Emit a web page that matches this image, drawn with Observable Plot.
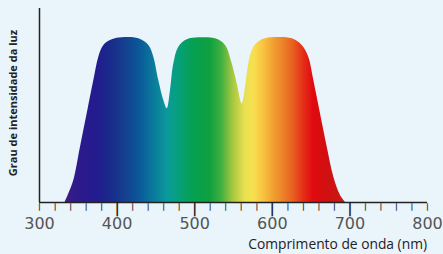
<!DOCTYPE html>
<html>
<head>
<meta charset="utf-8">
<script src="https://cdn.jsdelivr.net/npm/d3@7"></script>
<script src="https://cdn.jsdelivr.net/npm/@observablehq/plot@0.6"></script>
<style>
  html, body { margin: 0; padding: 0; background: #eaf4fb; }
  #chart { width: 443px; height: 254px; position: relative; }
</style>
</head>
<body>
<div id="chart"></div>
<script>
// Spectrum outline: wavelength (nm) and relative intensity
const wavelength = [333,337.8,344.2,352.8,361.5,370.0,376.4,382.9,393.7,406.6,428.0,440.9,447.3,453.7,460.2,464.6,468.8,473.1,479.5,490.3,505.3,526.8,539.7,548.3,554.8,561.2,565.5,569.7,576.2,587.0,604.1,625.7,638.5,647.0,653.5,662.1,670.8,679.3,687.9,694.3];
const intensity  = [0,5.3,13.3,33.5,53.9,73.9,88.1,95.2,98.6,99.8,99.2,95.2,88.1,73.9,61.8,56.8,67.9,84.1,94.1,98.6,99.8,99.2,95.2,84.1,71.9,59.8,69.9,84.1,94.1,98.6,100,99.2,95.2,88.1,73.9,53.8,33.5,15.3,4.2,0];

// Colour gradient stops along the wavelength axis
const stopNm = [333,353,375,391,410,430,450,465,480,499,520,535,550,565,576,590,602,615,627,640,653,671,694];
const stopColor = ["#3c1c86","#2c1a8c","#221c8e","#1a2a8a","#153f8f","#0a5a9a","#0a7f9c","#0a9a9a","#06a07a","#06a050","#10a040","#40b040","#a8c840","#e8e050","#f8e050","#f8c040","#f0a030","#ec8028","#e86020","#e43018","#e00a10","#d01010","#c81818"];

const majorTicks = [400, 500, 600, 700];
const minorTicks = d3.range(300, 801, 20).filter(d => !majorTicks.includes(d));
const tickLabels = [300, 400, 500, 600, 700, 800];

const data = wavelength.map((w, i) => ({w, v: intensity[i]}));

const yMax = 117.6;
const perPx = yMax / 194;      // y units per pixel
const yMin = -14 * perPx;      // frame extends 14px below the baseline for ticks

const plot = Plot.plot({
  width: 443,
  height: 254,
  marginLeft: 39,
  marginRight: 16,
  marginTop: 8,
  marginBottom: 38,
  style: {background: "transparent", overflow: "visible"},
  x: {domain: [300, 800], axis: null},
  y: {domain: [yMin, yMax], axis: null},
  marks: [
    Plot.areaY(data, {x: "w", y: "v", curve: "catmull-rom", fill: "url(#spec)"}),
    Plot.text(minorTicks, {x: d => d, y: 0, text: () => "|", dy: 4, fontSize: 7.6, fontWeight: "bold", fontFamily: "DejaVu Sans", fill: "#222"}),
    Plot.text(majorTicks, {x: d => d, y: 0, text: () => "|", dy: 6.5, fontSize: 13.5, fontWeight: "bold", fontFamily: "DejaVu Sans", fill: "#222"}),
    Plot.ruleX([300], {x: d => d, y1: 0, y2: yMax, stroke: "#222", strokeWidth: 1.5}),
    Plot.ruleY([0], {x1: 300, x2: 800, stroke: "#222", strokeWidth: 1.5}),
    Plot.text(tickLabels, {x: d => d, y: 0, text: d => String(d), dy: 21, fill: "#555", fontSize: 16, fontFamily: "DejaVu Sans"})
  ]
});

const x = plot.scale("x");
const svg = d3.select(plot);
const grad = svg.insert("defs", ":first-child").append("linearGradient")
  .attr("id", "spec")
  .attr("gradientUnits", "userSpaceOnUse")
  .attr("x1", x.apply(stopNm[0])).attr("x2", x.apply(stopNm[stopNm.length - 1]))
  .attr("y1", 0).attr("y2", 0);
const span = stopNm[stopNm.length - 1] - stopNm[0];
stopNm.forEach((n, i) => {
  grad.append("stop").attr("offset", (n - stopNm[0]) / span).attr("stop-color", stopColor[i]);
});

svg.append("text")
  .attr("x", 427).attr("y", 245)
  .attr("text-anchor", "end").attr("dominant-baseline", "middle")
  .attr("font-family", "Open Sans").attr("font-size", 13.8).attr("fill", "#222")
  .text("Comprimento de onda (nm)");

svg.append("text")
  .attr("transform", "translate(14,103) rotate(-90)")
  .attr("text-anchor", "middle").attr("dominant-baseline", "middle")
  .attr("font-family", "Open Sans").attr("font-weight", "bold").attr("font-size", 11).attr("fill", "#222")
  .text("Grau de intensidade da luz");

document.getElementById("chart").appendChild(plot);
</script>
</body>
</html>
